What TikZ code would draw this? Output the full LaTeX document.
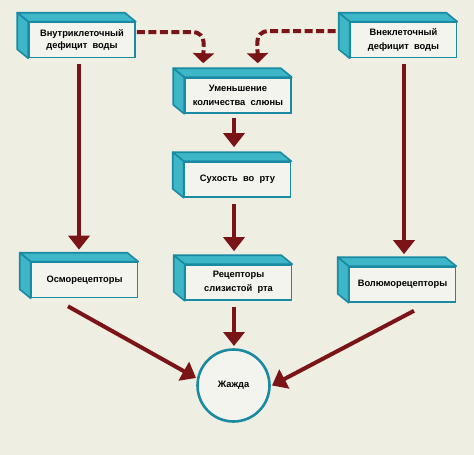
\documentclass[tikz,border=0pt]{standalone}
\usepackage{fontspec}
\setmainfont{Liberation Sans}
\usetikzlibrary{arrows.meta,calc}
\definecolor{bg}{HTML}{EFEEE3}
\definecolor{face}{HTML}{F4F4EE}
\definecolor{side}{HTML}{3DB6C8}
\definecolor{edge}{HTML}{1A8AA2}
\definecolor{arrc}{HTML}{7A1416}
\tikzset{
  front/.style={draw=edge, line width=1.6pt, fill=face, minimum width=106pt, minimum height=35pt,
    inner sep=0pt, align=center, font=\fontsize{9.3}{14}\selectfont\bfseries},
  faces/.style={draw=edge, line width=1.6pt, fill=side, line join=round},
  arrline/.style={draw=arrc, line width=4pt, -{Triangle[width=21pt,length=14pt]}},
  dashline/.style={draw=arrc, line width=4pt, dash pattern=on 8pt off 3.5pt, rounded corners=11pt,
    -{Triangle[width=21pt,length=10pt]}},
  bubble/.style={circle, draw=edge, line width=2.6pt, fill=face, minimum size=72pt, inner sep=0pt,
    font=\fontsize{9.3}{14}\selectfont\bfseries}
}
\newcommand\tbox[4]{%
  \node[front] (#1) at (#2,#3) {#4};
  \filldraw[faces] (#1.north west) -- ++(-11,-9) -- ($(#1.north east)+(-11,-9)$) -- (#1.north east) -- cycle;
  \filldraw[faces] (#1.north west) -- ++(-11,-9) -- ($(#1.south west)+(-11,-9)$) -- (#1.south west) -- cycle;
}
\begin{document}
\begin{tikzpicture}[x=1pt,y=-1pt]
  \fill[bg] (0,0) rectangle (474,455);
  \useasboundingbox (0,0) rectangle (474,455);
  \tbox{b1}{82}{40}{\raisebox{2pt}{\begin{tabular}{@{}c@{}}Внутриклеточный\\[-2pt]дефицит\ \ воды\end{tabular}}}
  \tbox{b2}{403.5}{40}{Внеклеточный\\дефицит\ \ воды}
  \tbox{b3}{238}{95.5}{Уменьшение\\количества\ \ слюны}
  \tbox{b4}{237.5}{179.5}{Сухость\ \ во\ \ рту}
  \tbox{b5}{238.5}{282.5}{Рецепторы\\слизистой\ \ рта}
  \tbox{b6}{84.5}{280}{Осморецепторы}
  \tbox{b7}{402.5}{284.5}{Волюморецепторы}
  \node[bubble] (c) at (233.5,385.5) {Жажда};
  % dashed connectors
  \draw[dashline] ($(b1.east)+(1,-8)$) -- (204,32) -- ($(b3.north west)+(19,-14)$);
  \draw[dashline] ($(b2.west)+(-14,-9)$) -- (257,31) -- ($(b3.north east)+(-34,-14)$);
  % solid connectors
  \draw[arrline] ($(b1.south)+(-3,6)$) -- ($(b6.north)+(-5.5,-12)$);
  \draw[arrline] ($(b2.south)+(0.5,6)$) -- ($(b7.north)+(1.5,-12)$);
  \draw[arrline] ($(b3.south)+(-4,4)$) -- ($(b4.north)+(-3.5,-14)$);
  \draw[arrline] ($(b4.south)+(-3.5,6)$) -- ($(b5.north)+(-4.5,-13)$);
  \draw[arrline] ($(b5.south)+(-4.5,6)$) -- ($(c.center)+(0.5,-39.5)$);
  \draw[arrline] ($(b6.south)+(-16.5,8)$) -- ($(c.center)+(-37.5,-7.5)$);
  \draw[arrline] ($(b7.south)+(11.5,8)$) -- ($(c.center)+(38.5,0)$);
\end{tikzpicture}
\end{document}
